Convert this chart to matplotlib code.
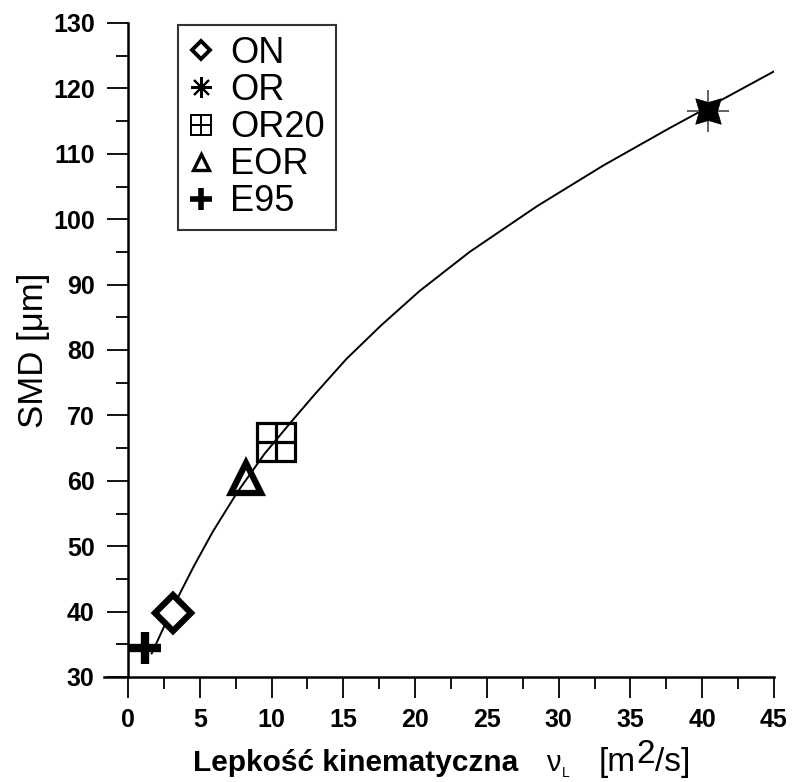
import matplotlib
matplotlib.use("Agg")
import matplotlib.pyplot as plt
from matplotlib.lines import Line2D
from matplotlib.ticker import MultipleLocator
from matplotlib.legend_handler import HandlerTuple

# ---- data ----
fuels = ["ON", "OR", "OR20", "EOR", "E95"]
viscosity = [3.15, 40.4, 10.3, 8.2, 1.2]
smd = [39.8, 116.6, 65.9, 60.5, 34.4]

curve_x = [1.65, 2.7, 3.6, 4.6, 5.9, 7.6, 9.5, 11.4, 13.0, 15.2, 17.6, 20.3, 23.8, 28.5, 33.1, 37.7, 45.0]
curve_y = [33.6, 38.6, 42.7, 47.0, 52.2, 58.2, 64.1, 69.1, 73.2, 78.6, 83.7, 89.0, 95.0, 102.0, 108.2, 113.9, 122.6]

xticks = [0, 5, 10, 15, 20, 25, 30, 35, 40, 45]
yticks = [30, 40, 50, 60, 70, 80, 90, 100, 110, 120, 130]

plt.rcParams['font.family'] = ['Liberation Sans', 'DejaVu Sans']

W, H = 795, 782
fig = plt.figure(figsize=(W / 100, H / 100), dpi=100)
ax = fig.add_axes([128 / W, 105 / H, 646 / W, 654 / H])

ax.plot(curve_x, curve_y, color='black', lw=1.4, zorder=2)

d = dict(zip(fuels, zip(viscosity, smd)))
# ON - diamond
ax.plot(*d["ON"], marker='D', ms=18, mfc='white', mec='black', mew=4.5, ls='none', zorder=3)
# OR - star + thin plus
ax.plot(*d["OR"], marker='+', ms=30, mec='#555555', mew=1.3, ls='none', zorder=3)
ax.plot(*d["OR"], marker=(4, 1, 45), ms=26, mfc='black', mec='black', mew=0.5, ls='none', zorder=4)
# OR20 - square with cross
ax.plot(*d["OR20"], marker='s', ms=27, mfc='none', mec='black', mew=2.3, ls='none', zorder=3)
ax.plot(*d["OR20"], marker='+', ms=27, mec='black', mew=2.3, ls='none', zorder=3)
# EOR - triangle
ax.plot(*d["EOR"], marker='^', ms=22, mfc='none', mec='black', mew=4.5, ls='none', zorder=3)
# E95 - thick plus
ax.plot(*d["E95"], marker='+', ms=23, mec='black', mew=6, ls='none', zorder=3)

ax.set_xlim(0, 45)
ax.set_ylim(30, 130)
ax.set_xticks(xticks)
ax.set_yticks(yticks)
ax.xaxis.set_minor_locator(MultipleLocator(2.5))
ax.yaxis.set_minor_locator(MultipleLocator(5))

for s in ['top', 'right']:
    ax.spines[s].set_visible(False)
for s in ['left', 'bottom']:
    ax.spines[s].set_linewidth(1.8)
ax.plot([-0.037, 0], [0, 0], transform=ax.transAxes, color='black', lw=1.8, clip_on=False)

ax.tick_params(which='major', direction='out', length=15, width=1.3, labelsize=18, pad=9)
ax.tick_params(which='minor', direction='out', length=8.5, width=1.3)
ax.tick_params(axis='x', which='major', pad=7)
for lab in ax.get_xticklabels() + ax.get_yticklabels():
    lab.set_fontweight('bold')

ax.set_ylabel("SMD [\u03bcm]", fontsize=25)
ax.yaxis.set_label_coords(-0.121, 0.5)

# x label made of pieces
fig.canvas.draw()
r = fig.canvas.get_renderer()
base = H - 771


def put(xpix, ypix, s, **kw):
    t = fig.text(xpix / W, ypix / H, s, ha='left', va='baseline', **kw)
    bb = t.get_window_extent(renderer=r)
    return bb.x1


fig.text(193 / W, base / H, "Lepko\u015b\u0107 kinematyczna", fontsize=21.5, fontweight='bold',
         ha='left', va='baseline')
xe = put(546, base, "\u03bd", fontsize=21)
put(xe + 1, base - 6, "L", fontsize=10)
xe = put(599, base, "[m", fontsize=24)
xe = put(xe, base + 8, "2", fontsize=24)
put(xe, base, "/s]", fontsize=24)

# legend
h_on = Line2D([], [], marker='D', ms=9, mfc='white', mec='black', mew=2.8, ls='none')
h_or = Line2D([], [], marker=(8, 2, 0), ms=15, mec='black', mew=1.5, ls='none')
h_or20a = Line2D([], [], marker='s', ms=15, mfc='none', mec='black', mew=1.4, ls='none')
h_or20b = Line2D([], [], marker='+', ms=15, mec='black', mew=1.4, ls='none')
h_eor = Line2D([], [], marker='^', ms=11, mfc='none', mec='black', mew=2.4, ls='none')
h_e95 = Line2D([], [], marker='+', ms=16, mec='black', mew=4, ls='none')
handles = [h_on, h_or, (h_or20a, h_or20b), h_eor, h_e95]
leg = ax.legend(handles, fuels, loc='upper left', bbox_to_anchor=(50 / 646, 1 - 2 / 654),
                fontsize=26, frameon=True, fancybox=False, edgecolor='black',
                handlelength=0.7, handletextpad=0.45, labelspacing=0.06, borderpad=0.3,
                borderaxespad=0, handler_map={tuple: HandlerTuple(ndivide=1, pad=0)})
leg.get_frame().set_linewidth(1.5)

fig.savefig("out.png", dpi=100)
